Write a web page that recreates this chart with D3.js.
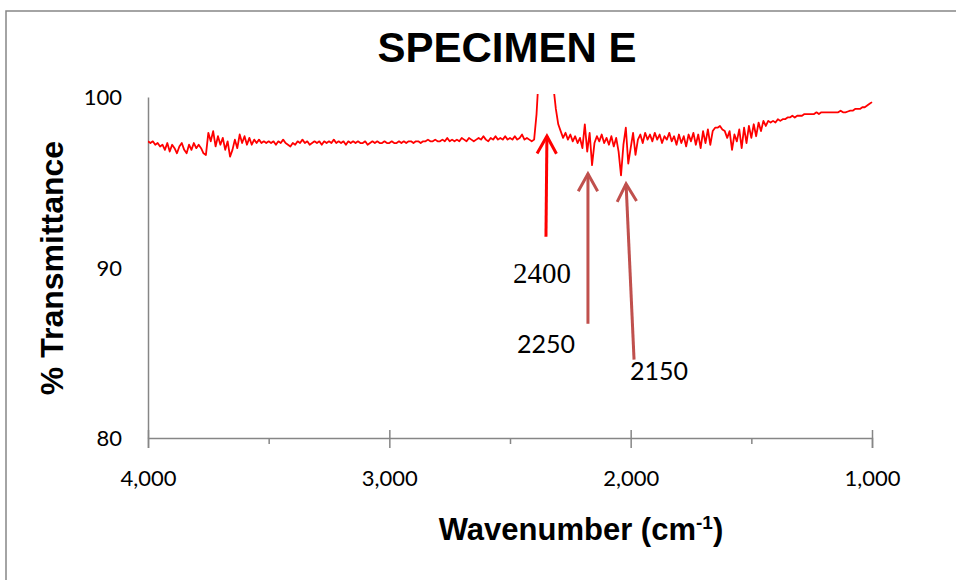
<!DOCTYPE html>
<html lang="en">
<head>
    <meta charset="UTF-8">
    <title>Specimen E</title>
    <script src="https://d3js.org/d3.v7.min.js"></script>
    <style>
        body { margin: 0; background: #fff; }
        .axis text { font-family: Lato, "Open Sans", sans-serif; font-size: 22px; fill: #000; }
        .axis path, .axis line { stroke: #868686; stroke-width: 1.5; }
        .title { font-family: "Liberation Sans", Arial, sans-serif; font-weight: bold; fill: #000; }
    </style>
</head>
<body>

<div id="chart"></div>

<script>
// wavenumber grid, 10 cm-1 steps
const wavenumbers = d3.range(4000, 999, -10);

// % transmittance, one chunk per 500 cm-1
const t4000 = [97.4, 97.3, 97.4, 97.2, 97.3, 97.1, 97.2, 96.9, 97.3, 96.8,
               97.2, 97.0, 96.7, 97.1, 97.3, 96.9, 96.7, 97.2, 96.9, 97.3,
               97.0, 97.2, 97.0, 96.7, 96.6, 97.9, 97.4, 98.0, 97.1, 97.7,
               97.2, 97.6, 96.9, 97.4, 96.5, 96.9, 97.5, 97.0, 97.8, 97.3,
               97.7, 97.2, 97.6, 97.2, 97.5, 97.3, 97.5, 97.3, 97.4, 97.3];
const t3500 = [97.4, 97.3, 97.4, 97.2, 97.4, 97.3, 97.5, 97.3, 97.2, 97.1,
               97.3, 97.2, 97.4, 97.3, 97.5, 97.3, 97.4, 97.2, 97.3, 97.4,
               97.3, 97.4, 97.2, 97.4, 97.3, 97.4, 97.3, 97.5, 97.3, 97.4,
               97.3, 97.4, 97.2, 97.4, 97.3, 97.4, 97.3, 97.4, 97.3, 97.3,
               97.4, 97.2, 97.3, 97.4, 97.3, 97.4, 97.3, 97.3, 97.4, 97.3];
const t3000 = [97.3, 97.4, 97.3, 97.3, 97.4, 97.3, 97.4, 97.3, 97.4, 97.4,
               97.3, 97.4, 97.4, 97.3, 97.4, 97.4, 97.5, 97.4, 97.4, 97.5,
               97.4, 97.4, 97.5, 97.4, 97.6, 97.4, 97.5, 97.4, 97.5, 97.4,
               97.6, 97.5, 97.4, 97.6, 97.5, 97.4, 97.5, 97.6, 97.5, 97.7,
               97.5, 97.4, 97.6, 97.5, 97.7, 97.5, 97.6, 97.5, 97.7, 97.5];
const t2500 = [97.6, 97.5, 97.7, 97.5, 97.6, 97.8, 97.5, 97.6, 97.5, 97.4,
               97.5, 99.0, 101.5, 103.0, 104.0, 103.5, 102.5, 101.5, 100.6, 99.3,
               98.4, 98.0, 97.6, 97.9, 97.5, 97.8, 97.4, 97.7, 97.3, 97.6,
               97.0, 98.4, 96.8, 97.9, 96.0, 97.3, 97.7, 97.4, 97.8, 97.3,
               97.6, 97.2, 97.7, 97.1, 97.6, 96.8, 95.4, 97.2, 98.2, 96.1];
const t2000 = [97.0, 97.9, 96.6, 97.5, 97.8, 97.3, 97.9, 97.5, 97.8, 97.4,
               97.9, 97.5, 97.8, 97.3, 97.7, 97.5, 97.9, 97.4, 97.7, 97.2,
               97.8, 97.3, 97.7, 97.1, 97.8, 97.4, 97.9, 97.2, 97.8, 97.0,
               98.0, 97.3, 98.1, 97.2, 98.0, 98.2, 98.2, 98.3, 98.1, 98.0,
               97.6, 98.0, 96.9, 97.8, 97.4, 98.1, 97.0, 98.2, 97.3, 98.3];
const t1500 = [97.6, 98.4, 97.7, 98.5, 98.0, 98.6, 98.3, 98.6, 98.5, 98.6,
               98.5, 98.7, 98.6, 98.7, 98.7, 98.8, 98.8, 98.9, 98.8, 98.9,
               98.9, 98.9, 99.0, 99.0, 99.0, 99.0, 99.0, 99.1, 99.0, 99.1,
               99.1, 99.1, 99.1, 99.1, 99.1, 99.1, 99.1, 99.2, 99.1, 99.1,
               99.15, 99.2, 99.2, 99.3, 99.3, 99.3, 99.4, 99.4, 99.5, 99.6,
               99.7];
const transmittance = [].concat(t4000, t3500, t3000, t2500, t2000, t1500);

const xTicks = [4000, 3000, 2000, 1000];
const xMinorTicks = [3500, 2500, 1500];
const yTicks = [80, 90, 100];

// peak call-outs: arrow tail and tip in data units, label anchor
const callouts = [
    {label: "2400", tail: [2351, 91.8], tip: [2347, 97.7], at: [2367, 89.1], color: "#ff0000", serif: true},
    {label: "2250", tail: [2177, 86.7], tip: [2177, 95.5], at: [2351, 85.0], color: "#c0504d", serif: false},
    {label: "2150", tail: [1986, 84.6], tip: [2019, 94.9], at: [1883, 83.4], color: "#c0504d", serif: false}
];

const W = 956, H = 580;
const plot = {left: 148, right: 872, top: 97, bottom: 438};

const svg = d3.select("#chart")
              .append("svg")
              .attr("width", W)
              .attr("height", H);

// chart frame (runs off the right and bottom edge)
svg.append("rect")
   .attr("x", 6).attr("y", 11)
   .attr("width", W + 20).attr("height", H + 20)
   .attr("fill", "none")
   .attr("stroke", "#868686")
   .attr("stroke-width", 1.5);

const x = d3.scaleLinear().domain([4000, 1000]).range([plot.left, plot.right]);
const y = d3.scaleLinear().domain([80, 100]).range([plot.bottom, plot.top]);

svg.append("defs").append("clipPath")
   .attr("id", "clip")
   .append("rect")
   .attr("x", plot.left).attr("y", plot.top - 3)
   .attr("width", plot.right - plot.left + 2)
   .attr("height", plot.bottom - plot.top + 3);

// Y axis (no tick marks)
svg.append("g")
   .attr("class", "axis")
   .attr("transform", `translate(${plot.left},0)`)
   .call(d3.axisLeft(y).tickValues(yTicks).tickSize(0).tickPadding(26))
   .call(g => g.selectAll(".tick text").attr("dy", "0.35em"));

// X axis, major ticks cross the line
svg.append("g")
   .attr("class", "axis")
   .attr("transform", `translate(0,${plot.bottom})`)
   .call(d3.axisBottom(x).tickValues(xTicks).tickFormat(d3.format(",")).tickSize(10).tickPadding(22))
   .call(g => g.selectAll(".tick line").attr("y1", -8));

// minor ticks
svg.append("g")
   .attr("class", "axis")
   .attr("transform", `translate(0,${plot.bottom})`)
   .call(d3.axisBottom(x).tickValues(xMinorTicks).tickFormat("").tickSize(6))
   .call(g => g.select(".domain").remove());

// spectrum
const data = wavenumbers.map((wn, i) => ({wn: wn, t: transmittance[i]}));

svg.append("path")
   .datum(data)
   .attr("clip-path", "url(#clip)")
   .attr("fill", "none")
   .attr("stroke", "#ff0000")
   .attr("stroke-width", 1.8)
   .attr("stroke-linejoin", "round")
   .attr("d", d3.line().x(d => x(d.wn)).y(d => y(d.t)));

// arrows and labels
const arm = 20, spread = 29 * Math.PI / 180;
callouts.forEach(c => {
    const x0 = x(c.tail[0]), y0 = y(c.tail[1]);
    const x1 = x(c.tip[0]), y1 = y(c.tip[1]);
    const ang = Math.atan2(y0 - y1, x0 - x1);
    const g = svg.append("g")
                 .attr("stroke", c.color)
                 .attr("stroke-width", 3)
                 .attr("fill", "none");
    g.append("line")
     .attr("x1", x0).attr("y1", y0)
     .attr("x2", x1).attr("y2", y1);
    g.append("polyline")
     .attr("points", [
         [x1 + arm * Math.cos(ang - spread), y1 + arm * Math.sin(ang - spread)],
         [x1, y1],
         [x1 + arm * Math.cos(ang + spread), y1 + arm * Math.sin(ang + spread)]
     ].map(p => p.join(",")).join(" "));

    svg.append("text")
       .attr("x", x(c.at[0]))
       .attr("y", y(c.at[1]))
       .attr("text-anchor", "middle")
       .style("font-family", c.serif ? "'Liberation Serif', 'Times New Roman', serif" : "Lato, sans-serif")
       .style("font-size", c.serif ? "29px" : "25px")
       .text(c.label);
});

// titles
svg.append("text")
   .attr("class", "title")
   .attr("x", 507)
   .attr("y", 62)
   .attr("text-anchor", "middle")
   .style("font-size", "42px")
   .text("SPECIMEN E");

const xt = svg.append("text")
   .attr("class", "title")
   .attr("x", 581)
   .attr("y", 540)
   .attr("text-anchor", "middle")
   .style("font-size", "31px");
xt.append("tspan").text("Wavenumber (cm");
xt.append("tspan").attr("dy", -11).style("font-size", "19px").text("-1");
xt.append("tspan").attr("dy", 11).text(")");

svg.append("text")
   .attr("class", "title")
   .attr("transform", "translate(63,268) rotate(-90)")
   .attr("text-anchor", "middle")
   .style("font-size", "32px")
   .text("% Transmittance");
</script>

</body>
</html>
